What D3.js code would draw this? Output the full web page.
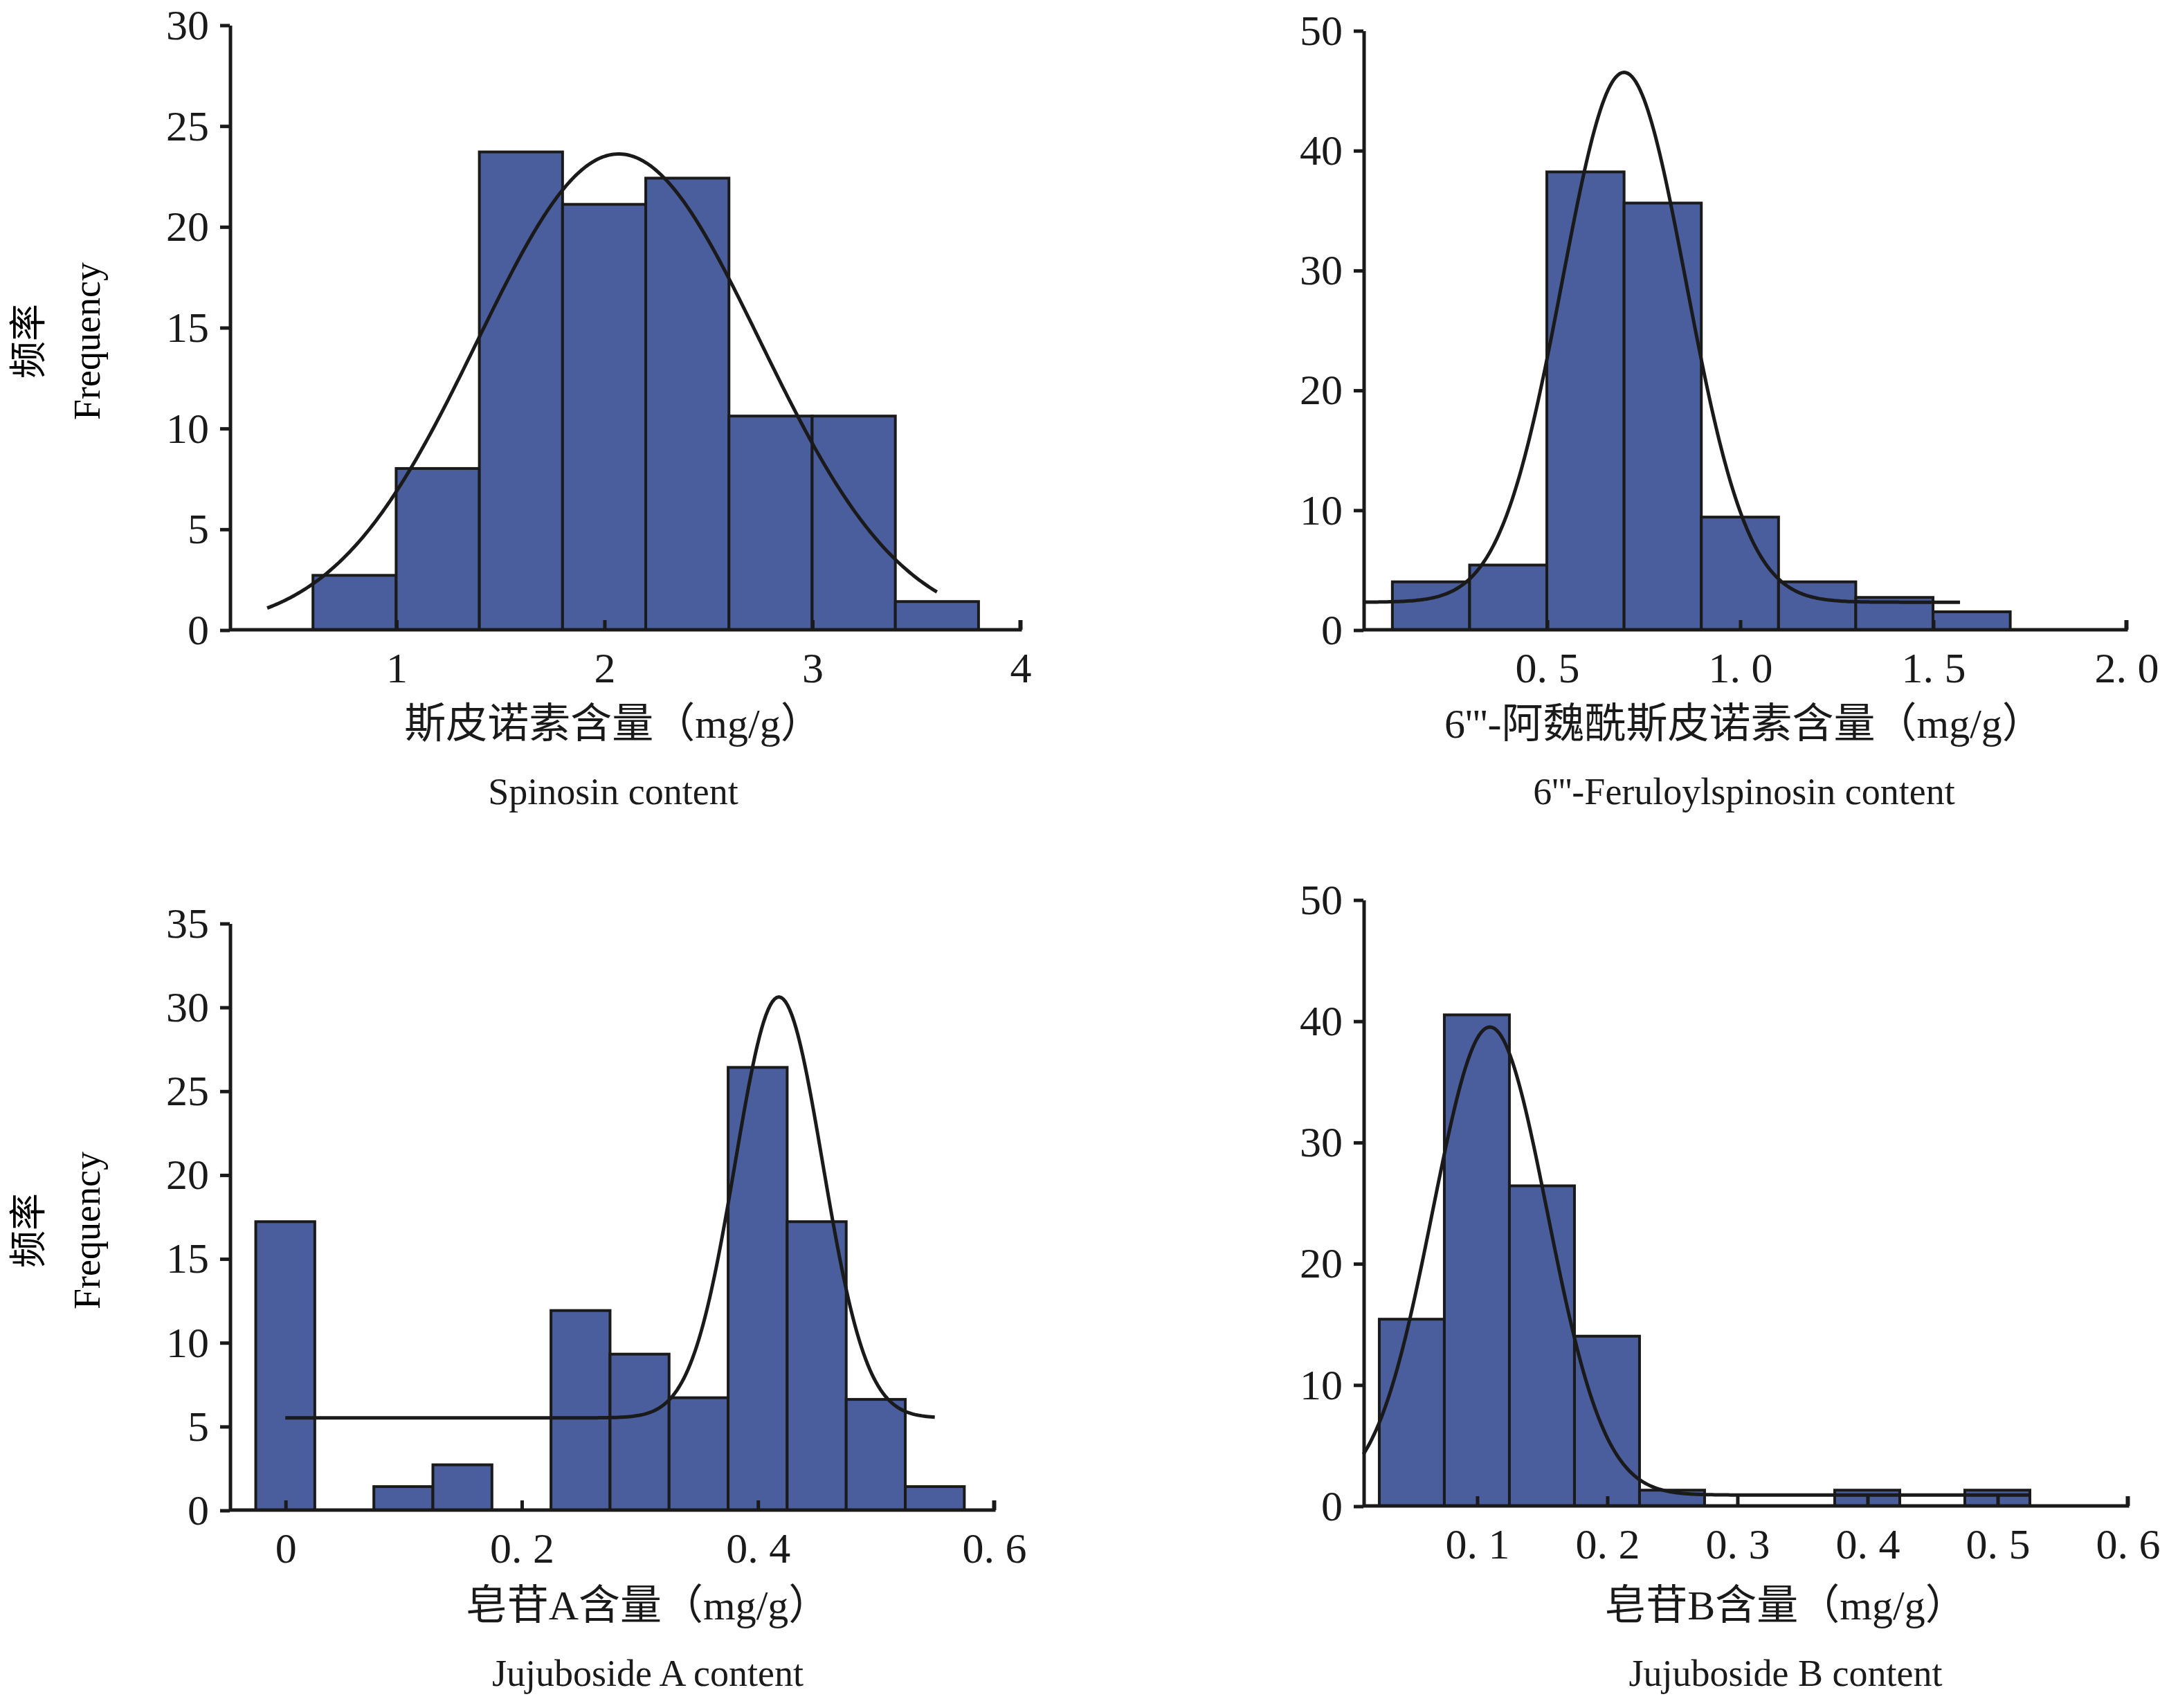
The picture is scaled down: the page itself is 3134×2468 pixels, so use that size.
<!DOCTYPE html>
<html><head><meta charset="utf-8">
<script src="https://cdn.jsdelivr.net/npm/d3@7"></script>
<style>body{margin:0;background:#fff}</style></head>
<body><div id="chart"></div>
<script>
// panel data (bins as [x0, x1], frequencies)
var binsA = [[0.6,1.0],[1.0,1.4],[1.4,1.8],[1.8,2.2],[2.2,2.6],[2.6,3.0],[3.0,3.4],[3.4,3.8]];
var freqA = [2.7, 8.0, 23.7, 21.1, 22.4, 10.6, 10.6, 1.4];
var curveA = {mu: 2.07, sigma: 0.68, amp: 23.6, base: 0, from: 0.38, to: 3.6};

var binsB = [[0.1,0.3],[0.3,0.5],[0.5,0.7],[0.7,0.9],[0.9,1.1],[1.1,1.3],[1.3,1.5],[1.5,1.7]];
var freqB = [4.0, 5.4, 38.2, 35.6, 9.4, 4.0, 2.7, 1.5];
var curveB = {mu: 0.7, sigma: 0.16, amp: 44.2, base: 2.3, from: 0.025, to: 1.57};

var binsC = [[-0.025,0.025],[0.075,0.125],[0.125,0.175],[0.225,0.275],[0.275,0.325],[0.325,0.375],[0.375,0.425],[0.425,0.475],[0.475,0.525],[0.525,0.575]];
var freqC = [17.2, 1.4, 2.7, 11.9, 9.3, 6.7, 26.4, 17.2, 6.6, 1.4];
var curveC = {mu: 0.418, sigma: 0.037, amp: 25.1, base: 5.5, from: 0, to: 0.55};

var binsD = [[0.025,0.075],[0.075,0.125],[0.125,0.175],[0.175,0.225],[0.225,0.275],[0.375,0.425],[0.475,0.525]];
var freqD = [15.4, 40.5, 26.4, 14.0, 1.3, 1.3, 1.3];
var curveD = {mu: 0.11, sigma: 0.044, amp: 38.6, base: 0.9, from: 0.0128, to: 0.525};

var panels = [
  {bins: binsA, freq: freqA, curve: curveA, xd: [0.2, 4], xr: [166, 737], yd: [0, 30], yr: [455, 18],
   xt: [1,2,3,4], xf: function(d){return d;}, yt: [0,5,10,15,20,25,30],
   t1: "斯皮诺素含量（mg/g）", t2: "Spinosin content", tc: 443, ty: 533, ylab: true},
  {bins: binsB, freq: freqB, curve: curveB, xd: [0.025, 2.0], xr: [985, 1536], yd: [0, 50], yr: [455, 22],
   xt: [0.5,1.0,1.5,2.0], xf: function(d){return d.toFixed(1).replace(".", ". ");}, yt: [0,10,20,30,40,50],
   t1: "6'''-阿魏酰斯皮诺素含量（mg/g）", t2: "6'''-Feruloylspinosin content", tc: 1260, ty: 533},
  {bins: binsC, freq: freqC, curve: curveC, xd: [-0.047, 0.6], xr: [166, 718], yd: [0, 35], yr: [1091, 667],
   xt: [0,0.2,0.4,0.6], xf: function(d){return d === 0 ? "0" : d.toFixed(1).replace(".", ". ");}, yt: [0,5,10,15,20,25,30,35],
   t1: "皂苷A含量（mg/g）", t2: "Jujuboside A content", tc: 468, ty: 1170, ylab: true},
  {bins: binsD, freq: freqD, curve: curveD, xd: [0.0128, 0.6], xr: [985, 1537], yd: [0, 50], yr: [1088, 650],
   xt: [0.1,0.2,0.3,0.4,0.5,0.6], xf: function(d){return d.toFixed(1).replace(".", ". ");}, yt: [0,10,20,30,40,50],
   t1: "皂苷B含量（mg/g）", t2: "Jujuboside B content", tc: 1290, ty: 1170}
];

var font = "'Liberation Serif','DejaVu Serif','Noto Sans CJK SC',serif";

var svg = d3.select("#chart").append("svg")
    .attr("width", 3134).attr("height", 2468)
    .attr("viewBox", "0 0 1567 1234")
    .style("font-family", font);

panels.forEach(function (p) {
    var x = d3.scaleLinear().domain(p.xd).range(p.xr);
    var y = d3.scaleLinear().domain(p.yd).range(p.yr);
    var g = svg.append("g");

    // bars
    g.selectAll("rect").data(p.bins).enter().append("rect")
        .attr("x", function (d) { return x(d[0]); })
        .attr("width", function (d) { return x(d[1]) - x(d[0]); })
        .attr("y", function (d, i) { return y(p.freq[i]); })
        .attr("height", function (d, i) { return y(0) - y(p.freq[i]); })
        .attr("fill", "#4a5e9d")
        .attr("stroke", "#1a1a1a")
        .attr("stroke-width", 2);

    // fitted curve
    var c = p.curve, pts = [];
    for (var k = 0; k <= 300; k++) {
        var xv = c.from + (c.to - c.from) * k / 300;
        pts.push([xv, c.base + c.amp * Math.exp(-Math.pow(xv - c.mu, 2) / (2 * c.sigma * c.sigma))]);
    }
    g.append("path").datum(pts)
        .attr("d", d3.line().x(function (d) { return x(d[0]); }).y(function (d) { return y(d[1]); }))
        .attr("fill", "none").attr("stroke", "#1a1a1a").attr("stroke-width", 2.5);

    // axes
    var ax = g.append("g").attr("transform", "translate(0," + y(0) + ")")
        .call(d3.axisBottom(x).tickValues(p.xt).tickFormat(p.xf).tickSize(-7).tickSizeOuter(0).tickPadding(16));
    var ay = g.append("g").attr("transform", "translate(" + p.xr[0] + ",0)")
        .call(d3.axisLeft(y).tickValues(p.yt).tickSize(7).tickSizeOuter(0).tickPadding(8));
    [ax, ay].forEach(function (a) {
        a.select(".domain").attr("stroke", "#1a1a1a").attr("stroke-width", 2.5);
        a.selectAll(".tick line").attr("stroke", "#1a1a1a").attr("stroke-width", 2.5);
        a.selectAll("text").attr("font-family", font).attr("font-size", 31).attr("fill", "#1a1a1a");
    });
    ax.select(".domain").attr("d", "M" + p.xr[0] + ",0H" + p.xr[1] + "v-7");

    // titles
    g.append("text").attr("x", p.tc).attr("y", p.ty).attr("text-anchor", "middle")
        .attr("font-size", 30).attr("fill", "#1a1a1a").text(p.t1);
    g.append("text").attr("x", p.tc).attr("y", p.ty + 48).attr("text-anchor", "middle")
        .attr("font-size", 27).attr("fill", "#1a1a1a").text(p.t2);

    if (p.ylab) {
        var cy = (p.yr[0] + p.yr[1]) / 2 + 10;
        g.append("text").attr("transform", "translate(30," + cy + ") rotate(-90)")
            .attr("text-anchor", "middle").attr("font-size", 27).text("频率");
        g.append("text").attr("transform", "translate(72," + cy + ") rotate(-90)")
            .attr("text-anchor", "middle").attr("font-size", 27).text("Frequency");
    }
});
</script></body></html>
